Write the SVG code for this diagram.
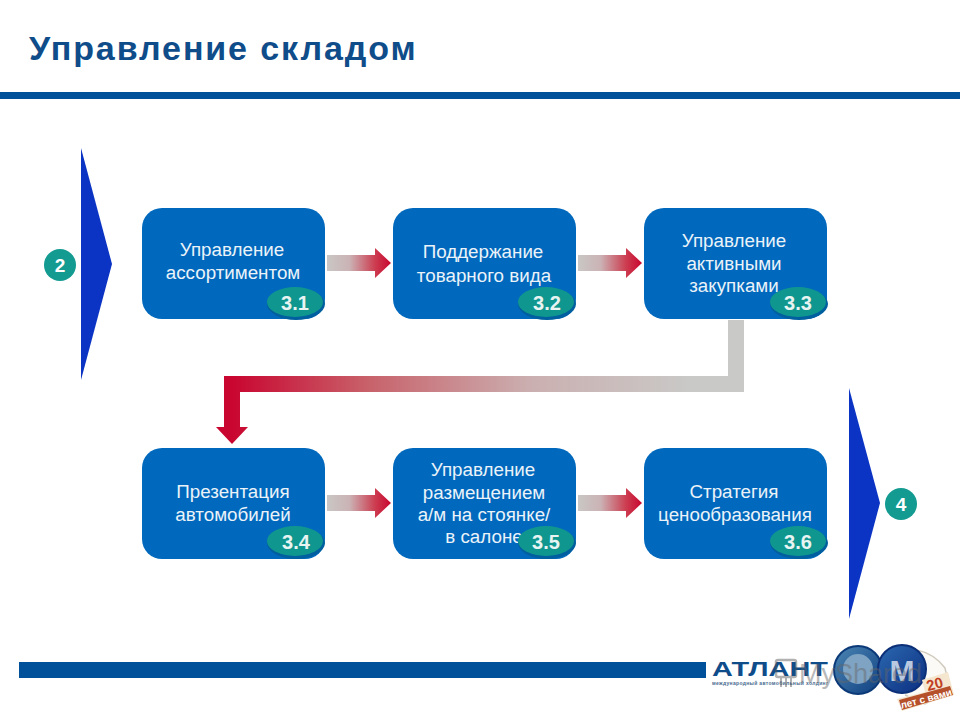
<svg xmlns="http://www.w3.org/2000/svg" width="960" height="720" viewBox="0 0 960 720">
<style>
text{font-family:"Liberation Sans",Arial,sans-serif}
.box{fill:#0069bd}
.lbl{fill:#fff;font-size:18.800px;text-anchor:middle;opacity:.92}
.badge{fill:#0f978f}
.badgeback{fill:#005f9f}
.num{fill:#e8f4f2;font-size:20px;font-weight:bold;text-anchor:middle}
.tri{fill:#0b34c4}
.dot{fill:#139b91}
.dotnum{fill:#fff;font-size:19px;font-weight:bold;text-anchor:middle}
</style>
<defs>
<linearGradient id="small" gradientUnits="userSpaceOnUse" x1="327" y1="0" x2="391" y2="0"><stop offset="0" stop-color="#c9c7c5"/><stop offset=".35" stop-color="#cbb3b5"/><stop offset=".75" stop-color="#cc3d50"/><stop offset="1" stop-color="#c9062f"/></linearGradient>
<linearGradient id="long" gradientUnits="userSpaceOnUse" x1="232" y1="0" x2="690" y2="0"><stop offset="0" stop-color="#c9062f"/><stop offset=".3" stop-color="#c8626b"/><stop offset=".65" stop-color="#cbafb0"/><stop offset="1" stop-color="#c9c9c7"/></linearGradient>
<linearGradient id="orb1" x1="0" y1="0" x2="1" y2="1"><stop offset="0" stop-color="#4c86b4"/><stop offset="1" stop-color="#0e3f80"/></linearGradient>
<linearGradient id="orb2" x1="0" y1="0" x2="1" y2="1"><stop offset="0" stop-color="#2c68b0"/><stop offset="1" stop-color="#0b2f80"/></linearGradient>
</defs>
<rect width="960" height="720" fill="#fff"/>
<text x="29" y="60" font-size="34" font-weight="bold" fill="#0f4c8a" letter-spacing="1.900">Управление складом</text>
<rect x="0" y="92" width="960" height="7" fill="#00519a"/>
<rect x="19" y="662" width="687" height="16" fill="#00519a"/>

<g id="connectors">
<polygon fill="url(#small)" points="327,255 375,255 375,248 391,263 375,278 375,271 327,271"/>
<polygon fill="url(#small)" transform="translate(251 0)" points="327,255 375,255 375,248 391,263 375,278 375,271 327,271"/>
<polygon fill="url(#small)" transform="translate(0 240)" points="327,255 375,255 375,248 391,263 375,278 375,271 327,271"/>
<polygon fill="url(#small)" transform="translate(251 240)" points="327,255 375,255 375,248 391,263 375,278 375,271 327,271"/>
<polygon fill="url(#long)" points="728,320 744,320 744,392 240,392 240,427 248,427 232,444 216,427 224,427 224,376 728,376"/>
</g>

<g id="input-2">
<polygon class="tri" points="81,148 112,264 81,380"/>
<circle class="dot" cx="60" cy="265" r="16"/>
<text class="dotnum" x="60" y="272">2</text>
</g>
<g id="output-4">
<polygon class="tri" points="849,388 880,503 849,619"/>
<circle class="dot" cx="901" cy="504" r="16"/>
<text class="dotnum" x="901" y="511">4</text>
</g>

<g id="node-3-1">
<rect class="box" x="142" y="208" width="183" height="111" rx="20"/>
<text class="lbl" x="232" y="256">Управление</text>
<text class="lbl" x="233" y="279">ассортиментом</text>
<ellipse class="badgeback" cx="296" cy="304" rx="29" ry="16"/>
<ellipse class="badge" cx="295" cy="302" rx="28" ry="15"/>
<text class="num" x="295" y="310">3.1</text>
</g>
<g id="node-3-2">
<rect class="box" x="393" y="208" width="183" height="111" rx="20"/>
<text class="lbl" x="483" y="258">Поддержание</text>
<text class="lbl" x="484" y="282">товарного вида</text>
<ellipse class="badgeback" cx="547" cy="304" rx="29" ry="16"/>
<ellipse class="badge" cx="546" cy="302" rx="28" ry="15"/>
<text class="num" x="547" y="310">3.2</text>
</g>
<g id="node-3-3">
<rect class="box" x="644" y="208" width="183" height="111" rx="20"/>
<text class="lbl" x="734" y="247">Управление</text>
<text class="lbl" x="734" y="270">активными</text>
<text class="lbl" x="734" y="292">закупками</text>
<ellipse class="badgeback" cx="799" cy="304" rx="29" ry="16"/>
<ellipse class="badge" cx="798" cy="302" rx="28" ry="15"/>
<text class="num" x="798" y="310">3.3</text>
</g>
<g id="node-3-4">
<rect class="box" x="142" y="448" width="183" height="111" rx="20"/>
<text class="lbl" x="233" y="498">Презентация</text>
<text class="lbl" x="233" y="521">автомобилей</text>
<ellipse class="badgeback" cx="296" cy="543" rx="29" ry="16"/>
<ellipse class="badge" cx="295" cy="541" rx="28" ry="15"/>
<text class="num" x="296" y="549">3.4</text>
</g>
<g id="node-3-5">
<rect class="box" x="393" y="448" width="183" height="111" rx="20"/>
<text class="lbl" x="483" y="476">Управление</text>
<text class="lbl" x="484" y="499">размещением</text>
<text class="lbl" x="484" y="521">а/м на стоянке/</text>
<text class="lbl" x="484" y="543">в салоне</text>
<ellipse class="badgeback" cx="547" cy="543" rx="29" ry="16"/>
<ellipse class="badge" cx="546" cy="541" rx="28" ry="15"/>
<text class="num" x="546" y="549">3.5</text>
</g>
<g id="node-3-6">
<rect class="box" x="644" y="448" width="183" height="111" rx="20"/>
<text class="lbl" x="734" y="498">Стратегия</text>
<text class="lbl" x="735" y="521">ценообразования</text>
<ellipse class="badgeback" cx="799" cy="543" rx="29" ry="16"/>
<ellipse class="badge" cx="798" cy="541" rx="28" ry="15"/>
<text class="num" x="798" y="549">3.6</text>
</g>

<g id="logo">
<path d="M890,654 C905,645 930,648 945,668 L950,690 L925,704 L905,695" fill="#fbfaf6" stroke="#cfcabd" stroke-width="1.500"/>
<circle cx="858" cy="670" r="24" fill="url(#orb1)" stroke="#0c3a78" stroke-width="2"/>
<circle cx="858" cy="669" r="15" fill="#7fa3c2"/>
<circle cx="902" cy="669" r="24" fill="url(#orb2)" stroke="#0c2f78" stroke-width="2"/>
<text x="902" y="681" font-size="30" font-weight="bold" fill="#b9c9df" text-anchor="middle">M</text>
<polygon points="922,680 948,672 954,695 902,711 897,699 925,692" fill="#f4e6cf"/>
<polygon points="899,700 950,686 953,695 902,710" fill="#b5502a"/>
<text x="712" y="676" font-size="20" font-weight="bold" fill="#0f4c8a" textLength="116" lengthAdjust="spacingAndGlyphs">АТЛАНТ</text>
<text x="712" y="685" font-size="5" font-weight="bold" fill="#4a6a90" textLength="116">международный автомобильный холдинг</text>
<text x="936" y="689" font-size="15" font-weight="bold" fill="#c1401f" text-anchor="middle" transform="rotate(-15 936 689)">20</text>
<text x="927" y="702" font-size="10" font-weight="bold" fill="#fff" text-anchor="middle" transform="rotate(-15 927 702)">лет с вами</text>
</g>
<g id="watermark" opacity=".45">
<rect x="776" y="660" width="20" height="17" rx="2" fill="none" stroke="#555" stroke-width="2.500"/>
<path d="M781,677v10M786,677v10M791,677v10" stroke="#555" stroke-width="2"/>
<text x="799" y="683" font-size="27" fill="#666">MyShared</text>
</g>
</svg>
